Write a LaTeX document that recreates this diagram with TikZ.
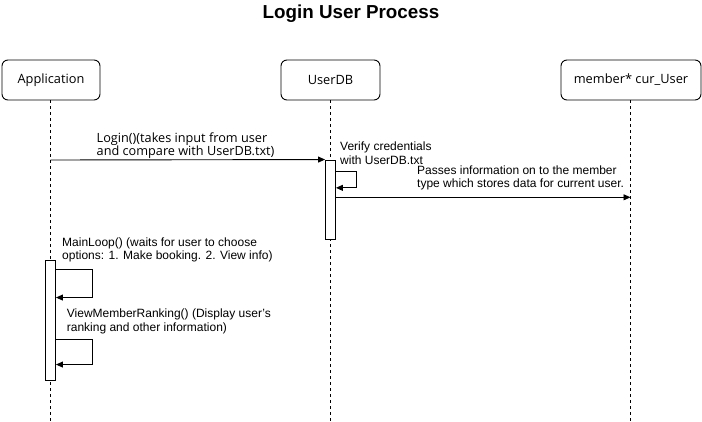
\documentclass[tikz,border=0pt]{standalone}
\usepackage{fontspec}
\setmainfont{Liberation Sans}
\newfontfamily\humfont{Open Sans}
\usetikzlibrary{arrows.meta}
\begin{document}
\begin{tikzpicture}[x=1pt,y=-1pt,
  actor/.style={draw, rounded corners=6pt, minimum height=40pt, inner sep=0pt, line width=0.9pt,
    font=\humfont\fontsize{12.8}{14}\selectfont},
  lifeline/.style={line width=0.8pt, dash pattern=on 3pt off 3pt},
  actbar/.style={draw, fill=white, minimum width=10pt, inner sep=0pt, line width=0.9pt},
  msg/.style={-{Triangle[length=7pt,width=6pt]}, line width=0.9pt},
  lbl/.style={font=\fontsize{12}{13.5}\selectfont, align=left, inner sep=0pt, anchor=west},
  hlbl/.style={font=\humfont\fontsize{12.7}{13.3}\selectfont, align=left, inner sep=0pt, anchor=west}]
\useasboundingbox (0,0) rectangle (702,422);
\node[font=\bfseries\fontsize{18.8}{21}\selectfont] (title) at (351,14) {Login User Process};
% actors
\node[actor, minimum width=98pt] (app) at (51,80) {Application};
\node[actor, minimum width=99pt] (udb) at (330.5,80) {UserDB};
\node[actor, minimum width=140pt] (mem) at (631,80) {member* cur\_User};
% lifeline ends
\coordinate (append) at (50.5,422);
\coordinate (udbend) at (330.5,422);
\coordinate (memend) at (630.5,422);
\draw[lifeline] (app.south -| append) -- (append);
\draw[lifeline] (udb.south -| udbend) -- (udbend);
\draw[lifeline] (mem.south -| memend) -- (memend);
% activation bars
\node[actbar, minimum height=79pt] (udbbar) at (330.5,199.5) {};
\node[actbar, minimum height=120pt] (appbar) at (50.5,320) {};
% login message
\coordinate (loginstart) at (50.5,160);
\draw[msg] (loginstart) -- (udbbar.north west);
\node[hlbl] (loginlbl) at (96.5,146) {Login()(takes input from user\\and compare with UserDB.txt)};
% verify self message
\draw[msg] ([yshift=-11.7pt]udbbar.north east) -- ++(20,0) -- ++(0,16.6) -- ([yshift=-28.3pt]udbbar.north east);
\node[lbl] (verlbl) at (340,153) {Verify credentials\\with UserDB.txt};
% passes message
\coordinate (mempass) at (630.5,197.3);
\draw[msg] (udbbar.east |- mempass) -- (mempass);
\node[lbl] (passlbl) at (417,178) {Passes information on to the member\\type which stores data for current user.};
% main loop
\draw[msg] ([yshift=-10pt]appbar.north east) -- ++(36,0) -- ++(0,28) -- ([yshift=-38pt]appbar.north east);
\node[lbl] (mainlbl) at (62,250) {MainLoop() (waits for user to choose\\options: 1. Make booking. 2. View info)};
% view member ranking
\draw[msg] ([yshift=-80pt]appbar.north east) -- ++(36,0) -- ++(0,25) -- ([yshift=-105pt]appbar.north east);
\node[lbl] (viewlbl) at (66.7,321.5) {ViewMemberRanking() (Display user's\\ranking and other information)};
\end{tikzpicture}
\end{document}
